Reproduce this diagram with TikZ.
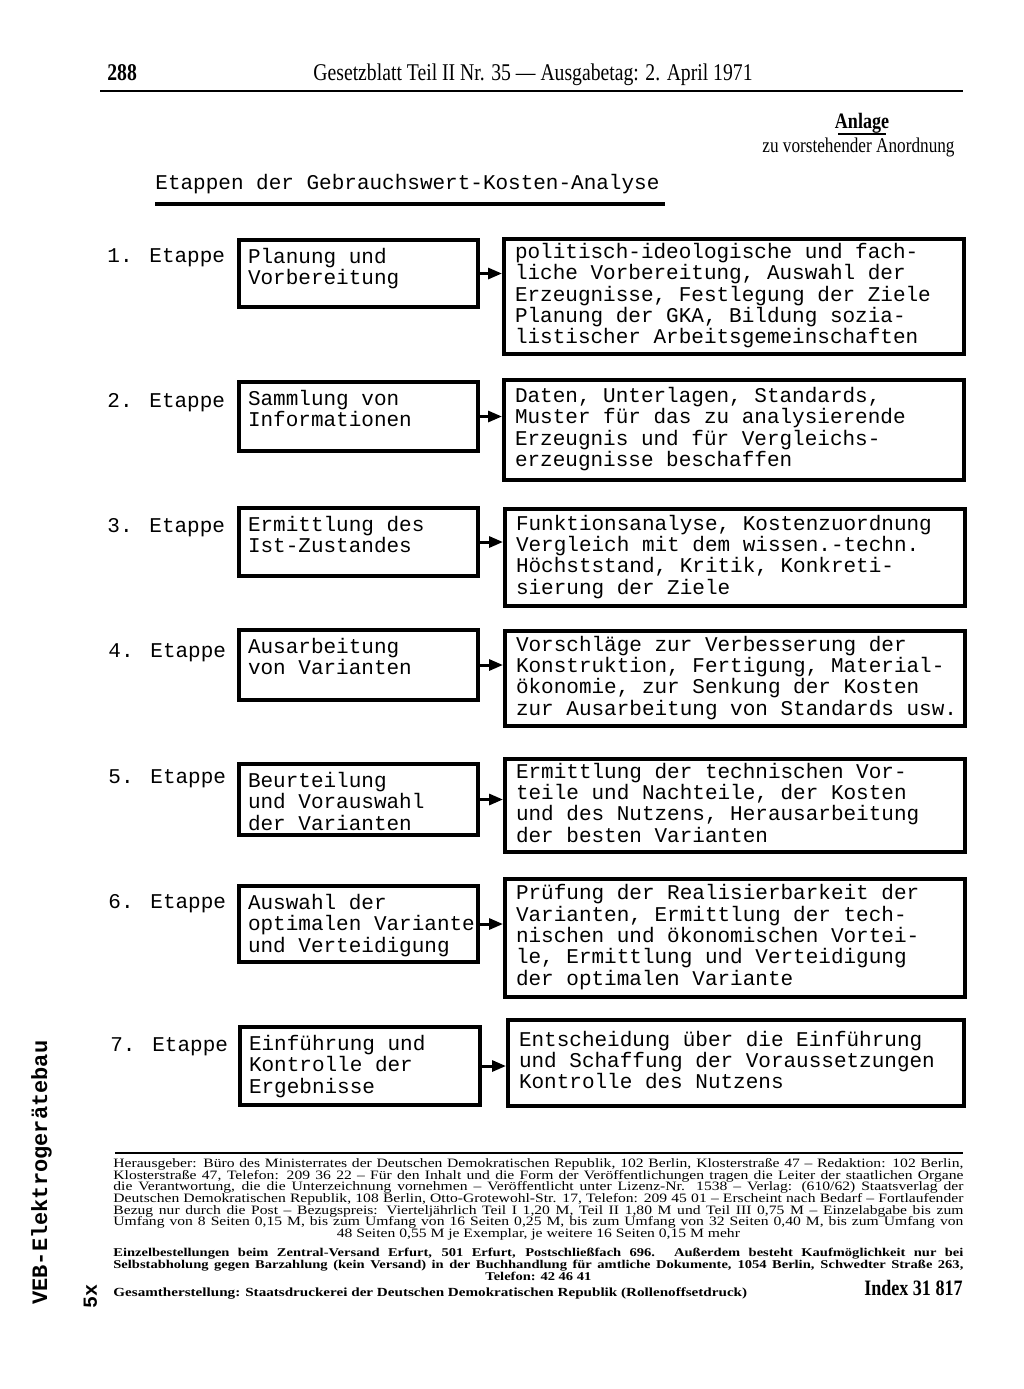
\documentclass[tikz,border=0pt]{standalone}
\usepackage{fontspec}
\setmainfont{Liberation Serif}
\newfontfamily\schreib{Liberation Mono}
\newfontfamily\kopf[FakeStretch=0.82]{Liberation Serif}
\newfontfamily\breit[FakeStretch=1.22]{Liberation Serif}
\usetikzlibrary{arrows.meta,positioning}
\newcommand{\feld}[4][t]{\parbox[c][#3][#1]{#2}{\begin{tabular}[t]{@{}l@{}}#4\end{tabular}}}
\newcommand{\schreibgr}{\schreib\fontsize{10.5}{10.2}\selectfont}
\tikzset{
  stufe/.style={font=\schreibgr, anchor=base west, inner sep=0pt},
  links/.style={draw, line width=2pt, anchor=north west, inner xsep=4.5pt, inner ysep=4.2pt, font=\schreibgr},
  rechts/.style={links, inner xsep=5.5pt, inner ysep=3pt},
  pfeil/.style={line width=1.5pt, -{Triangle[length=7pt,width=5.5pt]}},
  fuss/.style={anchor=north west, inner sep=0pt, text width=425pt, align=justify}
}

\begin{document}
\begin{tikzpicture}[x=0.5pt,y=-0.5pt]
  \useasboundingbox (0,0) rectangle (1024,1389);
  % Kopf
  \node[font=\kopf\bfseries\fontsize{12}{12}\selectfont, anchor=base west, inner sep=0pt] (seite) at (107,80) {288};
  \node[font=\kopf\fontsize{12}{12}\selectfont, anchor=base, inner sep=0pt] (kopfzeile) at (533,80) {Gesetzblatt Teil II Nr. 35 — Ausgabetag: 2. April 1971};
  \draw[line width=0.8pt] (100,91) -- (963,91);
  \node[font=\kopf\bfseries\fontsize{11}{11}\selectfont, anchor=base, inner sep=0pt] (anlage) at (862,128) {Anlage};
  \draw[line width=1pt] (838,134) -- (886,134);
  \node[font=\kopf\fontsize{10.5}{10.5}\selectfont, anchor=base east, inner sep=0pt] (anordnung) at (955,152) {zu vorstehender Anordnung};
  \node[stufe] (titel) at (155,189) {Etappen der Gebrauchswert-Kosten-Analyse};
  \draw[line width=1.6pt] (155,204) -- (665,204);

  % Etappen
  \node[stufe] (e1) at (107,262) {1. Etappe};
  \node[links] (l1) at (237,238) {\feld{110.5pt}{25.1pt}{Planung und\\Vorbereitung}};
  \node[rechts] (r1) at (502,237) {\feld[c]{219pt}{51.5pt}{politisch-ideologische und fach-\\liche Vorbereitung, Auswahl der\\Erzeugnisse, Festlegung der Ziele\\Planung der GKA, Bildung sozia-\\listischer Arbeitsgemeinschaften}};

  \node[stufe] (e2) at (107,407) {2. Etappe};
  \node[links] (l2) at (237,380) {\feld{110.5pt}{26.1pt}{Sammlung von\\Informationen}};
  \node[rechts] (r2) at (502,378) {\feld[c]{219pt}{44pt}{Daten, Unterlagen, Standards,\\Muster für das zu analysierende\\Erzeugnis und für Vergleichs-\\erzeugnisse beschaffen}};

  \node[stufe] (e3) at (107,532) {3. Etappe};
  \node[links] (l3) at (237,506) {\feld{110.5pt}{25.6pt}{Ermittlung des\\Ist-Zustandes}};
  \node[rechts] (r3) at (503,507) {\feld[c]{219pt}{42.5pt}{Funktionsanalyse, Kostenzuordnung\\Vergleich mit dem wissen.-techn.\\Höchststand, Kritik, Konkreti-\\sierung der Ziele}};

  \node[stufe] (e4) at (108,657) {4. Etappe};
  \node[links] (l4) at (237,628) {\feld{110.5pt}{26.6pt}{Ausarbeitung\\von Varianten}};
  \node[rechts] (r4) at (503,629) {\feld[c]{219pt}{41.5pt}{Vorschläge zur Verbesserung der\\Konstruktion, Fertigung, Material-\\ökonomie, zur Senkung der Kosten\\zur Ausarbeitung von Standards usw.}};

  \node[stufe] (e5) at (108,783) {5. Etappe};
  \node[links] (l5) at (237,762) {\feld{110.5pt}{27.1pt}{Beurteilung\\und Vorauswahl\\der Varianten}};
  \node[rechts] (r5) at (503,757) {\feld[c]{219pt}{40.5pt}{Ermittlung der technischen Vor-\\teile und Nachteile, der Kosten\\und des Nutzens, Herausarbeitung\\der besten Varianten}};

  \node[stufe] (e6) at (108,908) {6. Etappe};
  \node[links] (l6) at (237,884) {\feld{110.5pt}{29.6pt}{Auswahl der\\optimalen Variante\\und Verteidigung}};
  \node[rechts] (r6) at (503,877) {\feld[c]{219pt}{53pt}{Prüfung der Realisierbarkeit der\\Varianten, Ermittlung der tech-\\nischen und ökonomischen Vortei-\\le, Ermittlung und Verteidigung\\der optimalen Variante}};

  \node[stufe] (e7) at (110,1051) {7. Etappe};
  \node[links] (l7) at (238,1025) {\feld{111pt}{30.6pt}{Einführung und\\Kontrolle der\\Ergebnisse}};
  \node[rechts] (r7) at (506,1018) {\feld[c]{217pt}{37pt}{Entscheidung über die Einführung\\und Schaffung der Voraussetzungen\\Kontrolle des Nutzens}};

  \foreach \i in {1,...,7}
    \draw[pfeil] (l\i.east) -- (l\i.east -| r\i.west);

  % Impressum
  \draw[line width=0.8pt] (115,1153) -- (963,1153);
  \node[fuss, font=\breit\fontsize{6.4}{5.85}\selectfont] (impressum) at (113,1158) {\lineskiplimit=-5pt
    Herausgeber: Büro des Ministerrates der Deutschen Demokratischen Republik, 102 Berlin, Klosterstraße 47 – Redaktion: 102 Berlin,\linebreak
    Klosterstraße 47, Telefon: 209 36 22 – Für den Inhalt und die Form der Veröffentlichungen tragen die Leiter der staatlichen Organe\linebreak
    die Verantwortung, die die Unterzeichnung vornehmen – Veröffentlicht unter Lizenz-Nr. 1538 – Verlag: (610/62) Staatsverlag der\linebreak
    Deutschen Demokratischen Republik, 108 Berlin, Otto-Grotewohl-Str. 17, Telefon: 209 45 01 – Erscheint nach Bedarf – Fortlaufender\linebreak
    Bezug nur durch die Post – Bezugspreis: Vierteljährlich Teil I 1,20 M, Teil II 1,80 M und Teil III 0,75 M – Einzelabgabe bis zum\linebreak
    Umfang von 8 Seiten 0,15 M, bis zum Umfang von 16 Seiten 0,25 M, bis zum Umfang von 32 Seiten 0,40 M, bis zum Umfang von{\parfillskip=0pt\par}
    {\centering 48 Seiten 0,55 M je Exemplar, je weitere 16 Seiten 0,15 M mehr\par}};
  \node[fuss, font=\breit\bfseries\fontsize{5.95}{5.85}\selectfont] (bestellung) at (113,1248) {\lineskiplimit=-5pt
    Einzelbestellungen beim Zentral-Versand Erfurt, 501 Erfurt, Postschließfach 696. Außerdem besteht Kaufmöglichkeit nur bei\linebreak
    Selbstabholung gegen Barzahlung (kein Versand) in der Buchhandlung für amtliche Dokumente, 1054 Berlin, Schwedter Straße 263,{\parfillskip=0pt\par}
    {\centering Telefon: 42 46 41\par}};
  \node[font=\breit\bfseries\fontsize{6.2}{6.2}\selectfont, anchor=base west, inner sep=0pt] (herstellung) at (113,1296) {Gesamtherstellung: Staatsdruckerei der Deutschen Demokratischen Republik (Rollenoffsetdruck)};
  \node[font=\kopf\bfseries\fontsize{11}{11}\selectfont, anchor=base east, inner sep=0pt] (index) at (963,1295) {Index 31 817};

  % Randvermerk
  \node[rotate=90, anchor=base west, inner sep=0pt, font=\schreib\bfseries\fontsize{11}{11}\selectfont] (stempel) at (47,1305) {VEB-Elektrogerätebau};
  \node[rotate=90, anchor=base west, inner sep=0pt, font=\schreib\bfseries\fontsize{10}{10}\selectfont] (auflage) at (97,1309) {5x};
\end{tikzpicture}
\end{document}
